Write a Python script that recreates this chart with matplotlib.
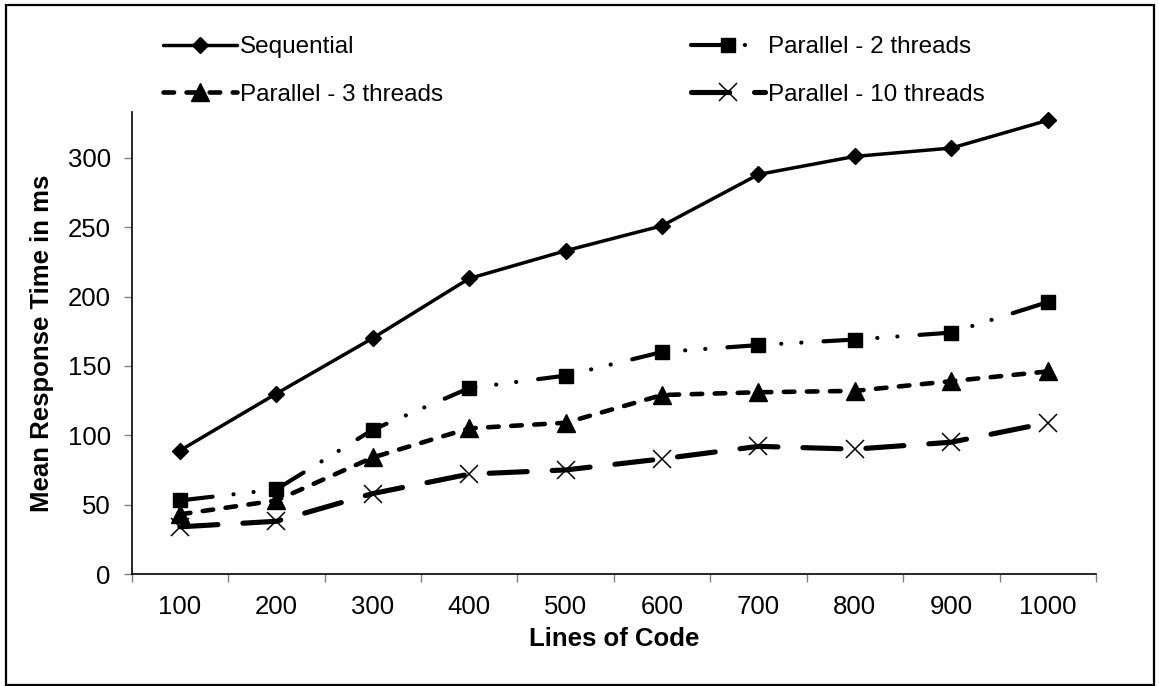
import matplotlib
matplotlib.use("Agg")
import matplotlib.pyplot as plt
from matplotlib.patches import Rectangle
from matplotlib.ticker import FixedLocator, NullFormatter, FixedFormatter

plt.rcParams['font.family'] = ['Liberation Sans', 'DejaVu Sans']
plt.rcParams['lines.scale_dashes'] = False

# ---- data ----
categories = ["100", "200", "300", "400", "500", "600", "700", "800", "900", "1000"]
sequential = [89, 130, 170, 213, 233, 251, 288, 301, 307, 327]
parallel_2 = [53, 61, 104, 134, 143, 160, 165, 169, 174, 196]
parallel_3 = [43, 53, 84, 105, 109, 129, 131, 132, 139, 146]
parallel_10 = [34, 38, 58, 72, 75, 83, 92, 90, 95, 109]
series_names = ["Sequential", "Parallel - 2 threads", "Parallel - 3 threads", "Parallel - 10 threads"]
y_ticks = [0, 50, 100, 150, 200, 250, 300]
x_label = "Lines of Code"
y_label = "Mean Response Time in ms"

W, H = 1159, 686
fig = plt.figure(figsize=(W / 100, H / 100), dpi=100)
fig.patch.set_facecolor('white')

# outer frame
fig.patches.append(Rectangle((6 / W, 1 - 685 / H), 1148 / W, 680 / H,
                             transform=fig.transFigure, fill=False,
                             edgecolor='black', linewidth=1.6, zorder=0))

ax = fig.add_axes([131.7 / W, 1 - 574 / H, (1096 - 131.7) / W, (574 - 112) / H])
xs = list(range(1, len(categories) + 1))

h_seq, = ax.plot(xs, sequential, color='black', lw=2.5, ls='-',
                 marker='D', ms=8, mfc='black', mec='black', mew=1,
                 solid_capstyle='round', label=series_names[0])
h_p2, = ax.plot(xs, parallel_2, color='black', lw=3.0,
                ls=(0, (23.7, 15.1, 0.1, 14.4, 0.1, 15.9)),
                dash_capstyle='round',
                marker='s', ms=10, mfc='black', mec='black', mew=1,
                label=series_names[1])
h_p3, = ax.plot(xs, parallel_3, color='black', lw=3.3,
                ls=(0, (7.6, 9.0)), dash_capstyle='round',
                marker='^', ms=13.5, mfc='black', mec='black', mew=1,
                label=series_names[2])
h_p10, = ax.plot(xs, parallel_10, color='black', lw=3.7,
                 ls=(0, (27.4, 18.0)), dash_capstyle='round',
                 marker='x', ms=13, mfc='black', mec='black', mew=1.1,
                 label=series_names[3])

ax.set_xlim(0.5, len(categories) + 0.5)
ax.set_ylim(0, 333)

# x: boundary ticks (major, no labels) + centered labels (minor, no tick marks)
ax.xaxis.set_major_locator(FixedLocator([i + 0.5 for i in range(0, len(categories) + 1)]))
ax.xaxis.set_major_formatter(NullFormatter())
ax.xaxis.set_minor_locator(FixedLocator(xs))
ax.xaxis.set_minor_formatter(FixedFormatter(categories))
ax.tick_params(axis='x', which='major', direction='out', length=6, width=1,
               color='#808080')
ax.tick_params(axis='x', which='minor', length=0, pad=15, labelsize=18.5)

ax.set_yticks(y_ticks)
ax.tick_params(axis='y', which='major', direction='out', length=6, width=1,
               color='#808080', pad=9, labelsize=18.5)

for s in ['top', 'right']:
    ax.spines[s].set_visible(False)
for s in ['left', 'bottom']:
    ax.spines[s].set_linewidth(1.2)
    ax.spines[s].set_color('black')

ax.set_xlabel(x_label, fontsize=18.5, fontweight='bold', labelpad=6)
ax.set_ylabel(y_label, fontsize=18.5, fontweight='bold', labelpad=10)

leg = fig.legend(handles=[h_seq, h_p3, h_p2, h_p10], ncol=2,
                 loc='upper left', bbox_to_anchor=(163 / W, 1 - 36 / H),
                 frameon=False, fontsize=17.5, handlelength=3.04,
                 handletextpad=0.12, columnspacing=10.2, labelspacing=1.05,
                 borderpad=0, borderaxespad=0, numpoints=1)

fig.savefig("out.png", dpi=100, facecolor='white')
